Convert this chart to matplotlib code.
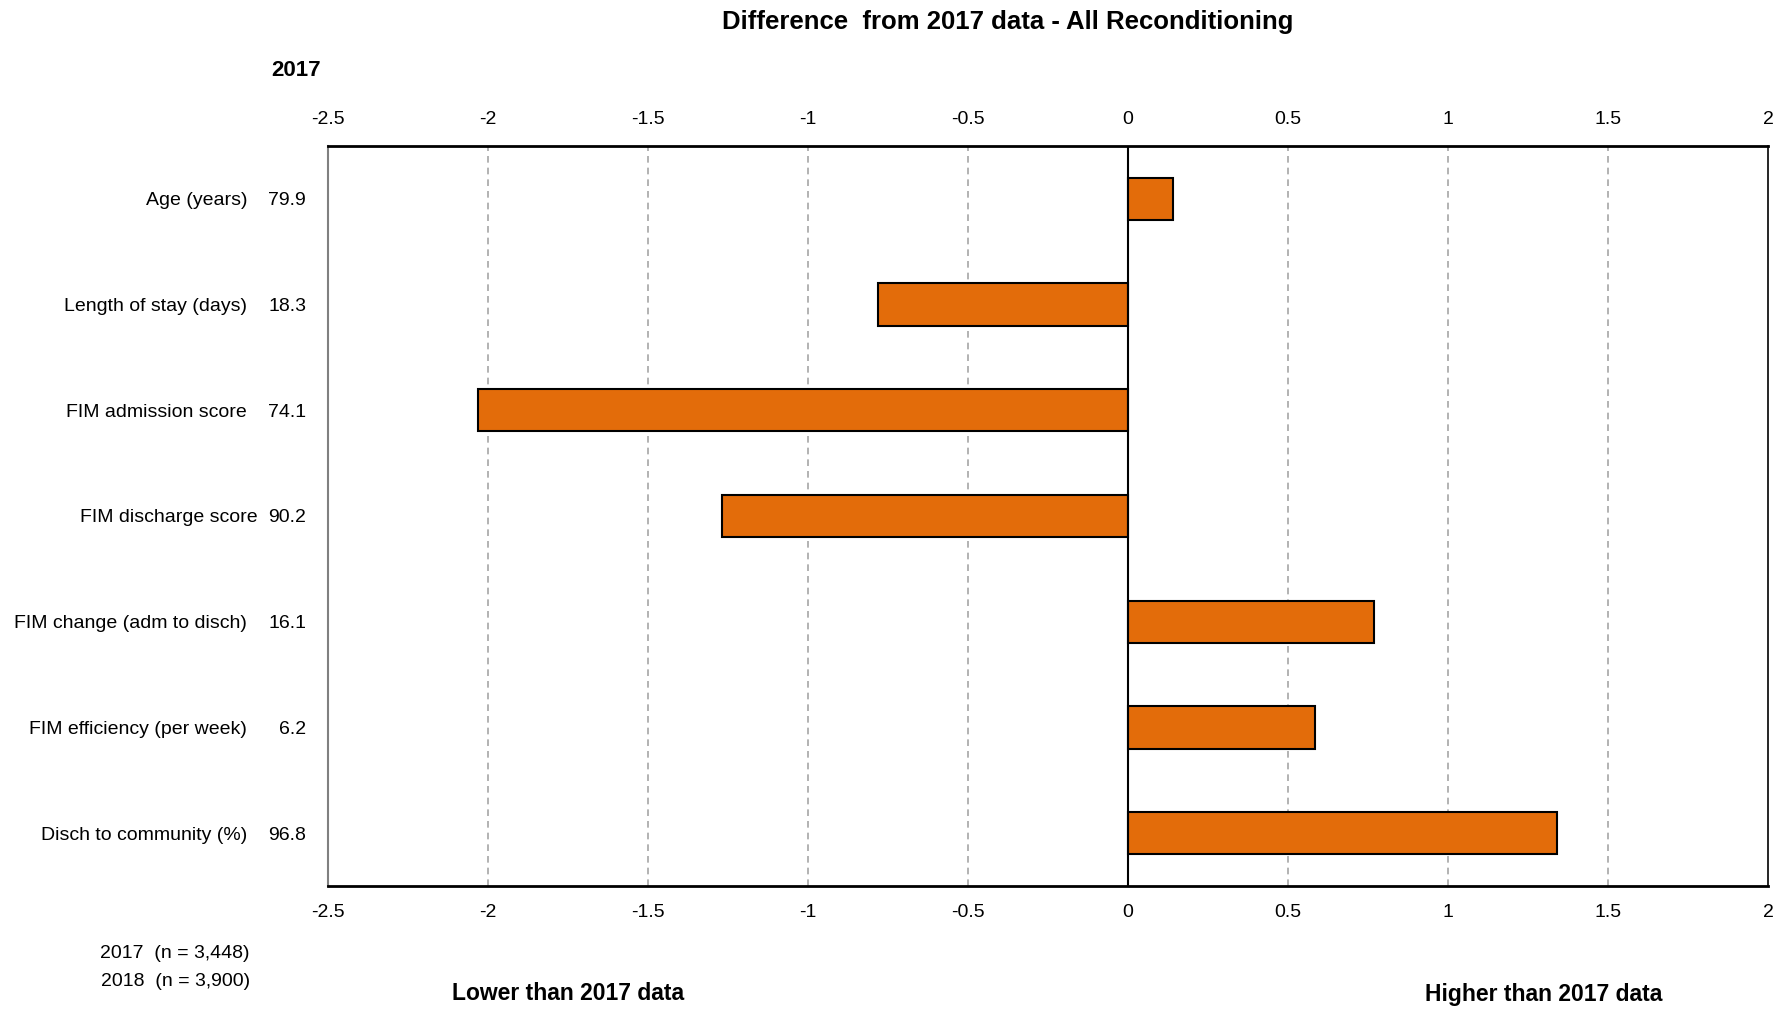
import matplotlib
matplotlib.use("Agg")
import matplotlib.pyplot as plt
from matplotlib import font_manager

names = {f.name for f in font_manager.fontManager.ttflist}
NARROW = 'Liberation Sans Narrow' in names
FAM = ['Liberation Sans Narrow', 'Liberation Sans', 'DejaVu Sans'] if NARROW else ['Liberation Sans', 'DejaVu Sans']
plt.rcParams['font.family'] = FAM
LBL = 15 if NARROW else 14

categories = ["Age (years)", "Length of stay (days)", "FIM admission score",
              "FIM discharge score", "FIM change (adm to disch)",
              "FIM efficiency (per week)", "Disch to community (%)"]
values_2017 = ["79.9", "18.3", "74.1", "90.2", "16.1", "6.2", "96.8"]
differences = [0.14, -0.78, -2.03, -1.27, 0.77, 0.585, 1.34]
xticks = [-2.5, -2, -1.5, -1, -0.5, 0, 0.5, 1, 1.5, 2]
xtick_labels = ["-2.5", "-2", "-1.5", "-1", "-0.5", "0", "0.5", "1", "1.5", "2"]

W, H = 1787, 1016
fig = plt.figure(figsize=(W / 100, H / 100), dpi=100)
left, right, top, bottom = 328, 1768, 146, 886
ax = fig.add_axes([left / W, 1 - bottom / H, (right - left) / W, (bottom - top) / H])

y = list(range(len(categories)))
ax.barh(y, differences, height=0.4, color="#E36C0A", edgecolor="black", linewidth=1.5, zorder=3)
ax.set_xlim(-2.5, 2)
ax.set_ylim(6.5, -0.5)

for t in xticks:
    if t == 0:
        ax.axvline(0, color="black", lw=1.5, zorder=4)
    elif t not in (-2.5, 2):
        ax.axvline(t, color="#A6A6A6", lw=1.2, ls=(0, (4, 3)), zorder=1)

ax.set_xticks(xticks)
ax.set_xticklabels(xtick_labels)
ax.tick_params(axis='x', which='both', length=0, labelsize=LBL, pad=13,
               top=False, labeltop=True, bottom=False, labelbottom=True)
ax.set_yticks([])
for s in ["top", "bottom"]:
    ax.spines[s].set_color("black")
    ax.spines[s].set_linewidth(2)
ax.spines["right"].set_color("black")
ax.spines["right"].set_linewidth(1.2)
ax.spines["left"].set_color("#808080")
ax.spines["left"].set_linewidth(1.5)

for i, (c, v) in enumerate(zip(categories, values_2017)):
    yy = ax.transData.transform((0, i))[1]
    yf = yy / H + 2 / H * -1
    lx = 258 if c == "FIM discharge score" else 247
    fig.text(lx / W, yf, c, ha="right", va="center", fontsize=LBL)
    fig.text(306 / W, yf, v, ha="right", va="center", fontsize=LBL)

fig.text(1008 / W, 1 - 22 / H, "Difference  from 2017 data - All Reconditioning",
         ha="center", va="center", fontsize=18.5, fontweight="bold")
fig.text(271 / W, 1 - 70 / H, "2017", ha="left", va="center", fontsize=16, fontweight="bold")
fig.text(250 / W, 1 - 953 / H, "2017  (n = 3,448)", ha="right", va="center", fontsize=14)
fig.text(250 / W, 1 - 982 / H, "2018  (n = 3,900)", ha="right", va="center", fontsize=14)
fig.text(568 / W, 1 - 994 / H, "Lower than 2017 data", ha="center", va="center", fontsize=16.5, fontweight="bold")
fig.text(1544 / W, 1 - 994 / H, "Higher than 2017 data", ha="center", va="center", fontsize=16.5, fontweight="bold")

fig.savefig("out.png", dpi=100)
